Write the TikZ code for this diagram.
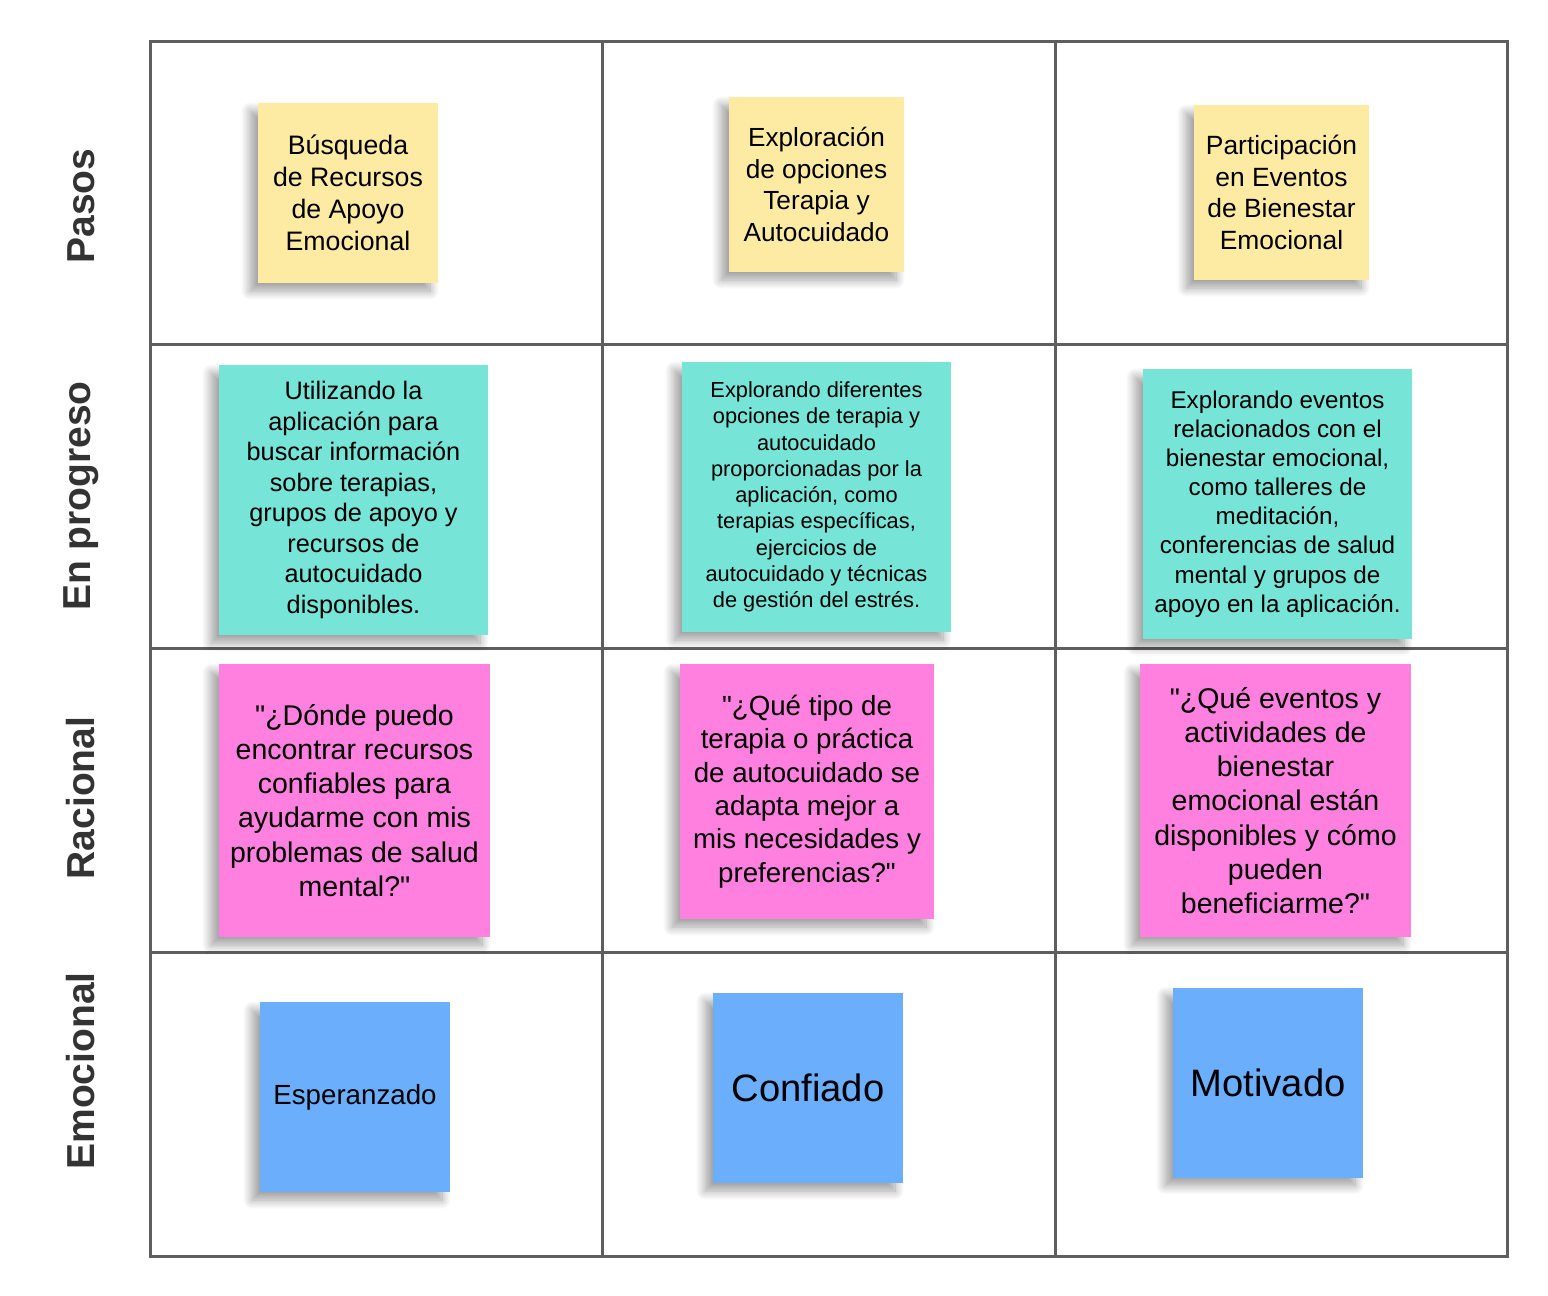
\documentclass[tikz,border=0pt]{standalone}
\usepackage{fontspec}
\setmainfont{Liberation Sans}[Ligatures=TeXOff]
\usetikzlibrary{shadows.blur}

\definecolor{gridgray}{HTML}{5E5E5E}
\definecolor{labelgray}{HTML}{333333}
\definecolor{noteyellow}{HTML}{FDEBA3}
\definecolor{noteteal}{HTML}{76E4D7}
\definecolor{notepink}{HTML}{FF80DE}
\definecolor{noteblue}{HTML}{6AAEFC}

\tikzset{
  gridline/.style={draw=gridgray, line width=3pt},
  rowlabel/.style={rotate=90, inner sep=0pt, text=labelgray,
    font=\fontsize{39}{47}\selectfont\bfseries},
  note/.style={rectangle, inner sep=0pt, align=center, text=black,
    blur shadow={shadow xshift=-8pt, shadow yshift=-8pt,
      shadow blur radius=9pt, shadow blur steps=14, shadow opacity=38}},
  yellownote/.style={note, fill=noteyellow, minimum width=178pt, minimum height=178pt},
  tealnote/.style={note, fill=noteteal, minimum width=269pt, minimum height=270pt},
  pinknote/.style={note, fill=notepink},
  bluenote/.style={note, fill=noteblue, minimum width=190pt, minimum height=190pt},
}

\begin{document}
\begin{tikzpicture}[x=1pt, y=-1pt]
  \useasboundingbox (0,0) rectangle (1548,1296);

  % board grid
  \draw[gridline] (150,41) rectangle (1507,1256);
  \draw[gridline] (602,41) -- (602,1256);
  \draw[gridline] (1055,41) -- (1055,1256);
  \draw[gridline] (150,344) -- (1507,344);
  \draw[gridline] (150,648) -- (1507,648);
  \draw[gridline] (150,952) -- (1507,952);

  % row headings
  \node[rowlabel] (lpasos) at (81,206) {Pasos};
  \node[rowlabel] (lprog)  at (81,496) {En progreso};
  \node[rowlabel] (lrac)   at (81,798) {Racional};
  \node[rowlabel] (lemo)   at (81,1071) {Emocional};

  % steps
  \node[yellownote, minimum width=180pt, minimum height=180pt,
        font=\fontsize{26.7}{32}\selectfont] (p1) at (348,193)
    {Búsqueda\\de Recursos\\de Apoyo\\Emocional};
  \node[yellownote, minimum width=175pt, minimum height=175pt,
        font=\fontsize{26.2}{31.7}\selectfont] (p2) at (816.5,184.5)
    {Exploración\\de opciones\\Terapia y\\Autocuidado};
  \node[yellownote, minimum width=175pt, minimum height=175pt,
        font=\fontsize{26.4}{31.7}\selectfont] (p3) at (1281.5,192.5)
    {Participación\\en Eventos\\de Bienestar\\Emocional};

  % in progress
  \node[tealnote, font=\fontsize{25.3}{30.5}\selectfont] (g1) at (353.5,500)
    {Utilizando la\\aplicación para\\buscar información\\sobre terapias,\\grupos de apoyo y\\recursos de\\autocuidado\\disponibles.};
  \node[tealnote, font=\fontsize{21.8}{26.3}\selectfont] (g2) at (816.5,497)
    {Explorando diferentes\\opciones de terapia y\\autocuidado\\proporcionadas por la\\aplicación, como\\terapias específicas,\\ejercicios de\\autocuidado y técnicas\\de gestión del estrés.};
  \node[tealnote, font=\fontsize{24.2}{29.1}\selectfont] (g3) at (1277.5,504)
    {Explorando eventos\\relacionados con el\\bienestar emocional,\\como talleres de\\meditación,\\conferencias de salud\\mental y grupos de\\apoyo en la aplicación.};

  % rationale
  \node[pinknote, minimum width=271pt, minimum height=273pt,
        font=\fontsize{28.5}{34.2}\selectfont] (r1) at (354.5,800.5)
    {"¿Dónde puedo\\encontrar recursos\\confiables para\\ayudarme con mis\\problemas de salud\\mental?"};
  \node[pinknote, minimum width=254pt, minimum height=255pt,
        font=\fontsize{27.7}{33.3}\selectfont] (r2) at (807,791.5)
    {"¿Qué tipo de\\terapia o práctica\\de autocuidado se\\adapta mejor a\\mis necesidades y\\preferencias?"};
  \node[pinknote, minimum width=271pt, minimum height=273pt,
        font=\fontsize{28.5}{34.2}\selectfont] (r3) at (1275.5,800.5)
    {"¿Qué eventos y\\actividades de\\bienestar\\emocional están\\disponibles y cómo\\pueden\\beneficiarme?"};

  % emotions
  \node[bluenote, font=\fontsize{27.7}{33}\selectfont] (e1) at (355,1097)
    {Esperanzado};
  \node[bluenote, font=\fontsize{38.2}{46}\selectfont] (e2) at (808,1088)
    {Confiado};
  \node[bluenote, font=\fontsize{38.2}{46}\selectfont] (e3) at (1268,1082.5)
    {Motivado};
\end{tikzpicture}
\end{document}
